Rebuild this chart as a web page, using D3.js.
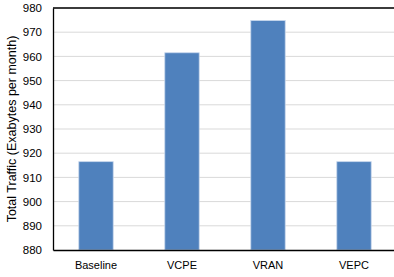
<!DOCTYPE html>
<html>
<head>
<meta charset="utf-8">
<script src="https://cdn.jsdelivr.net/npm/d3@7"></script>
<style>
html,body{margin:0;padding:0;background:#fff;overflow:hidden;}
svg{display:block;}
</style>
</head>
<body>
<div id="chart"></div>
<script>
const categories = ["Baseline", "VCPE", "VRAN", "VEPC"];
const values = [916.5, 961.5, 974.8, 916.5];
const yTicks = [880, 890, 900, 910, 920, 930, 940, 950, 960, 970, 980];
const yLabel = "Total Traffic (Exabytes per month)";

const W = 394, H = 277;
const margin = {left: 53, top: 8, right: -3, bottom: 27};
const svg = d3.select("#chart").append("svg").attr("width", W).attr("height", H);

const x = d3.scaleBand().domain(categories).range([margin.left, W - margin.right]).paddingInner(0).paddingOuter(0);
const y = d3.scaleLinear().domain([880, 980]).range([H - margin.bottom, margin.top]);

const font = "'Liberation Sans', Arial, sans-serif";

// gridlines
svg.append("g").selectAll("line").data(yTicks.slice(1)).join("line")
  .attr("x1", margin.left).attr("x2", W - margin.right)
  .attr("y1", d => y(d)).attr("y2", d => y(d))
  .attr("stroke", "#d9d9d9").attr("stroke-width", 1);

// bars
const bw = x.bandwidth() * 0.4;
svg.append("g").selectAll("rect").data(values).join("rect")
  .attr("x", (d, i) => x(categories[i]) + x.bandwidth() / 2 - bw / 2)
  .attr("width", bw)
  .attr("y", d => y(d))
  .attr("height", d => y(880) - y(d))
  .attr("fill", "#4f81bd")
  .attr("stroke", "#c6d6ec").attr("stroke-width", 0.8);

// top border
svg.append("line").attr("x1", margin.left).attr("x2", W - margin.right)
  .attr("y1", margin.top).attr("y2", margin.top).attr("stroke", "#000").attr("stroke-width", 1.3);

// y axis
const yAxis = svg.append("g").attr("transform", `translate(${margin.left},0)`)
  .call(d3.axisLeft(y).tickValues(yTicks).tickSize(0).tickPadding(11));
yAxis.select(".domain").attr("stroke", "#000").attr("stroke-width", 1.3);
yAxis.selectAll("text").attr("font-family", font).attr("font-size", "11.5px").attr("fill", "#000");

// x axis
const xAxis = svg.append("g").attr("transform", `translate(0,${H - margin.bottom})`)
  .call(d3.axisBottom(x).tickSize(0).tickPadding(11));
xAxis.select(".domain").attr("stroke", "#000").attr("stroke-width", 1.3);
xAxis.selectAll("text").attr("font-family", font).attr("font-size", "11px").attr("fill", "#000");

// y label
svg.append("text")
  .attr("transform", `translate(16,${(y(880) + y(980)) / 2}) rotate(-90)`)
  .attr("text-anchor", "middle")
  .attr("font-family", font).attr("font-size", "12.5px").attr("fill", "#000")
  .text(yLabel);
</script>
</body>
</html>
